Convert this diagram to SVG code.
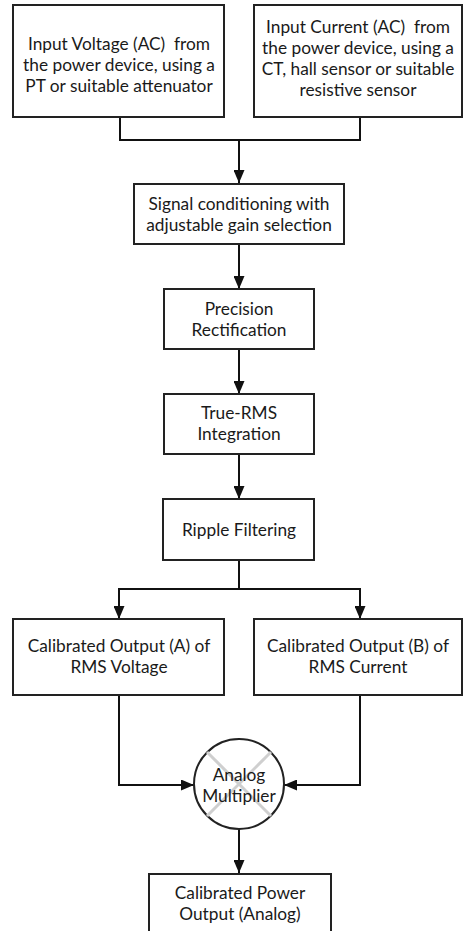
<svg xmlns="http://www.w3.org/2000/svg" width="463" height="931" viewBox="0 0 463 931">
<defs>
<style>
.box{fill:#fff;stroke:#222;stroke-width:2}
.t{font-family:Lato,"Open Sans","Liberation Sans",sans-serif;font-size:17.3px;fill:#1a1a1a;text-anchor:middle}
.c{fill:none;stroke:#111;stroke-width:2}
.x{stroke:#cfcfcf;stroke-width:3}
</style>
<marker id="ah" markerUnits="userSpaceOnUse" markerWidth="13" markerHeight="11" refX="13" refY="5.5" orient="auto">
<path d="M0,0 L13,5.5 L0,11 z" fill="#111"/>
</marker>
</defs>
<rect width="463" height="931" fill="#fff"/>
<g id="connectors">
<path class="c" d="M120,117 V140 H360 V117"/>
<path class="c" d="M239,140 V183" marker-end="url(#ah)"/>
<path class="c" d="M239,245 V289" marker-end="url(#ah)"/>
<path class="c" d="M239,349 V394" marker-end="url(#ah)"/>
<path class="c" d="M239,454 V499" marker-end="url(#ah)"/>
<path class="c" d="M239,560 V589 H119 V619" marker-end="url(#ah)"/>
<path class="c" d="M239,589 H360 V619" marker-end="url(#ah)"/>
<path class="c" d="M119,695 V785 H194" marker-end="url(#ah)"/>
<path class="c" d="M360,695 V785 H284" marker-end="url(#ah)"/>
<path class="c" d="M239,829 V873" marker-end="url(#ah)"/>
</g>
<g id="input-voltage">
<rect class="box" x="13" y="5" width="211" height="112"/>
<text class="t" x="119" y="50">Input Voltage (AC)&#160; from</text>
<text class="t" x="119" y="71">the power device, using a</text>
<text class="t" x="119" y="92">PT or suitable attenuator</text>
</g>
<g id="input-current">
<rect class="box" x="254" y="5" width="208" height="112"/>
<text class="t" x="358" y="33">Input Current (AC)&#160; from</text>
<text class="t" x="358" y="54">the power device, using a</text>
<text class="t" x="358" y="75">CT, hall sensor or suitable</text>
<text class="t" x="358" y="96">resistive sensor</text>
</g>
<g id="signal-conditioning">
<rect class="box" x="134" y="184" width="210" height="60"/>
<text class="t" x="239" y="210">Signal conditioning with</text>
<text class="t" x="239" y="231">adjustable gain selection</text>
</g>
<g id="precision-rectification">
<rect class="box" x="164" y="289" width="150" height="60"/>
<text class="t" x="239" y="315">Precision</text>
<text class="t" x="239" y="336">Rectification</text>
</g>
<g id="true-rms">
<rect class="box" x="164" y="394" width="150" height="60"/>
<text class="t" x="239" y="419">True-RMS</text>
<text class="t" x="239" y="440">Integration</text>
</g>
<g id="ripple-filtering">
<rect class="box" x="163" y="499" width="151" height="61"/>
<text class="t" x="239" y="536">Ripple Filtering</text>
</g>
<g id="output-a">
<rect class="box" x="13" y="619" width="211" height="76"/>
<text class="t" x="119" y="652">Calibrated Output (A) of</text>
<text class="t" x="119" y="673">RMS Voltage</text>
</g>
<g id="output-b">
<rect class="box" x="254" y="619" width="208" height="76"/>
<text class="t" x="358" y="652">Calibrated Output (B) of</text>
<text class="t" x="358" y="673">RMS Current</text>
</g>
<g id="analog-multiplier">
<circle cx="239" cy="784" r="45" fill="#fff" stroke="#222" stroke-width="2"/>
<line class="x" x1="207" y1="752" x2="271" y2="816"/>
<line class="x" x1="271" y1="752" x2="207" y2="816"/>
<text class="t" x="239" y="781">Analog</text>
<text class="t" x="239" y="802">Multiplier</text>
</g>
<g id="power-output">
<rect class="box" x="149" y="874" width="182" height="70"/>
<text class="t" x="240" y="899">Calibrated Power</text>
<text class="t" x="240" y="920">Output (Analog)</text>
</g>
</svg>
